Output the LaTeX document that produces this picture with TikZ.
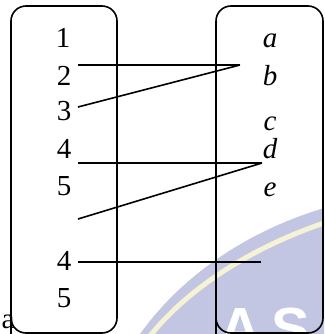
\documentclass[tikz,border=0pt]{standalone}
\usepackage{fontspec}
\setmainfont{Liberation Serif}
\setsansfont{Liberation Sans}
\definecolor{wmblue}{RGB}{195,198,227}
\definecolor{wmyellow}{RGB}{245,242,213}
\tikzset{
  setbox/.style={draw, line width=1.6pt, rounded corners=15pt},
  elem/.style={font=\fontsize{29}{31}\selectfont, anchor=base, inner sep=0pt},
  link/.style={line width=1.6pt},
  wmtext/.style={text=white, font=\sffamily\bfseries\fontsize{58}{60}\selectfont, anchor=base, inner sep=0pt}
}
\begin{document}
\begin{tikzpicture}[x=1pt,y=-1pt]
\useasboundingbox (0,0) rectangle (324,334);
% watermark
\fill[wmblue] (140,334) .. controls (175,285) and (235,235) .. (324,208) -- (324,334) -- cycle;
\draw[wmyellow, line width=5pt] (150,336) .. controls (185,292) and (245,250) .. (324,223);
\node[wmtext] (wmA) at (240,348) {A};
\node[wmtext] (wmS) at (291,348) {S};
% sets
\draw[setbox] (11,345) -- (11,6) -- (117,6) -- (117,333) -- (11,333) -- (11,320);
\draw[setbox] (216,345) -- (216,6) -- (323,6) -- (323,333) -- (216,333) -- (216,320);
% elements
\node[elem] (n1) at (63,48) {1};
\node[elem] (n2) at (64,85) {2};
\node[elem] (n3) at (64,121) {3};
\node[elem] (n4) at (64,158) {4};
\node[elem] (n5) at (64,195) {5};
\node[elem] (m4) at (64,270) {4};
\node[elem] (m5) at (64,307) {5};
\node[elem] (la) at (270,48) {\itshape a};
\node[elem] (lb) at (270,85) {\itshape b};
\node[elem] (lc) at (270,130) {\itshape c};
\node[elem] (ld) at (270,158) {\itshape d};
\node[elem] (le) at (270,196) {\itshape e};
\node[elem] (xa) at (8,328) {a};
% connector end points
\coordinate (s2) at (78,65);
\coordinate (s3) at (78,107);
\coordinate (s4) at (78,163);
\coordinate (s5) at (78,219);
\coordinate (s6) at (78,262);
\coordinate (tb) at (240,65);
\coordinate (td) at (262,163);
\coordinate (tx) at (261,262);
\draw[link] (s2) -- (tb);
\draw[link] (s3) -- (tb);
\draw[link] (s4) -- (td);
\draw[link] (s5) -- (td);
\draw[link] (s6) -- (tx);
\end{tikzpicture}
\end{document}
